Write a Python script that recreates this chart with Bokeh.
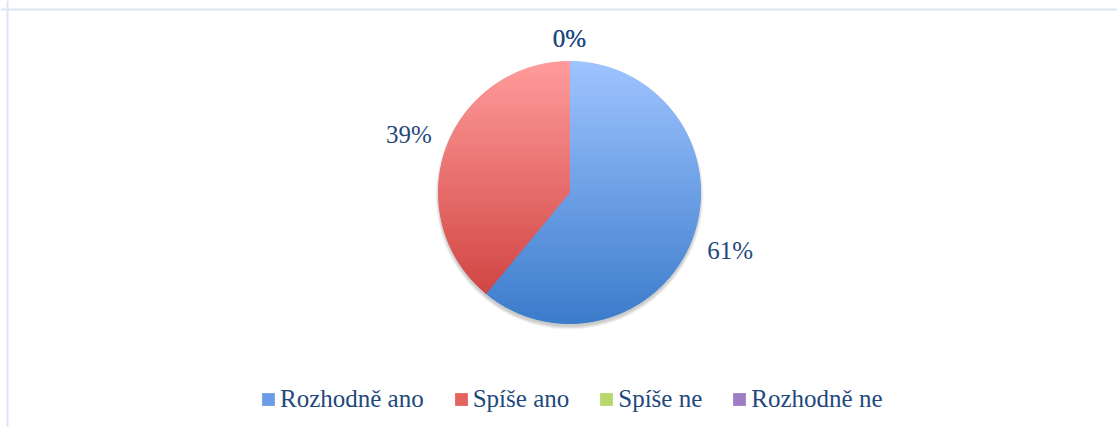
import numpy as np
from bokeh.plotting import figure
from bokeh.models import Range1d, Span, Legend, LegendItem, ColumnDataSource
from bokeh.core.properties import value
from bokeh.embed import file_html
from bokeh.resources import INLINE

# ---- data ----
categories = ["Rozhodně ano", "Spíše ano", "Spíše ne", "Rozhodně ne"]
values = [61, 39, 0, 0]

# ---- style ----
TOP_COLORS = ["#9EC4FF", "#FF9C9B", "#DDFFA0", "#C8AAEA"]
BOTTOM_COLORS = ["#3B7BCB", "#CB3A38", "#98B954", "#7B58A5"]
LEGEND_COLORS = ["#6A9DE6", "#E5625F", "#B8D86E", "#9E7DC6"]
TEXT_COLOR = "#1F497D"
FONT = "Liberation Serif"
FS = "25px"

W, H = 1117, 427
p = figure(width=W, height=H, x_range=Range1d(0, W), y_range=Range1d(0, H),
           output_backend="svg", toolbar_location=None, min_border=0,
           x_axis_type=None, y_axis_type=None)
p.grid.visible = False
p.outline_line_color = None
p.background_fill_color = "white"
p.border_fill_color = "white"

# chart area border (top and left visible)
p.add_layout(Span(location=418, dimension="width", line_color="#DCE6F2", line_width=2))
p.add_layout(Span(location=7, dimension="height", line_color="#DCE6F2", line_width=2))

CX, CY, R = 569, 235, 131

# soft shadow
for k in range(6):
    p.circle(x=[CX], y=[CY - 3], radius=R + 0.6 * k, fill_color="black", fill_alpha=0.035,
             line_color=None)

total = float(sum(values))
fracs = [v / total for v in values]
cum = np.concatenate([[0.0], np.cumsum(fracs)])
starts = [np.pi / 2 - 2 * np.pi * c for c in cum[:-1]]
ends = [np.pi / 2 - 2 * np.pi * c for c in cum[1:]]

# base wedges (also used for legend)
renderers = []
for i, cat in enumerate(categories):
    src = ColumnDataSource(dict(start=[starts[i]], end=[ends[i]], cat=[cat]))
    r = p.wedge(x=CX, y=CY, radius=R, start_angle="start", end_angle="end", direction="clock",
                fill_color=LEGEND_COLORS[i], line_color=None, source=src)
    if values[i] == 0:
        r.visible = False
    renderers.append(r)


def hex2rgb(h):
    h = h.lstrip("#")
    return np.array([int(h[j:j + 2], 16) for j in (0, 2, 4)], dtype=float)


def rgb2hex(c):
    return "#%02x%02x%02x" % tuple(int(round(v)) for v in c)


def clip(poly, y, keep_above):
    out = []
    n = len(poly)
    for j in range(n):
        P = poly[j]
        Q = poly[(j + 1) % n]
        pin = P[1] >= y if keep_above else P[1] <= y
        qin = Q[1] >= y if keep_above else Q[1] <= y
        if pin:
            out.append(P)
        if pin != qin:
            t = (y - P[1]) / (Q[1] - P[1])
            out.append((P[0] + t * (Q[0] - P[0]), y))
    return out


# gradient overlay (vertical gradient over the whole pie)
band_xs, band_ys, band_cols = [], [], []
step = 2.0
for i in range(len(values)):
    if values[i] == 0:
        continue
    ts = np.linspace(starts[i], ends[i], 300)
    poly = [(CX, CY)] + [(CX + R * np.cos(t), CY + R * np.sin(t)) for t in ts]
    top_c, bot_c = hex2rgb(TOP_COLORS[i]), hex2rgb(BOTTOM_COLORS[i])
    y = CY - R
    while y < CY + R:
        y1 = min(y + step, CY + R)
        piece = clip(clip(poly, y, True), y1, False)
        if len(piece) >= 3:
            tfrac = ((y + y1) / 2 - (CY - R)) / (2 * R)
            col = rgb2hex(bot_c + tfrac * (top_c - bot_c))
            band_xs.append([pt[0] for pt in piece])
            band_ys.append([pt[1] for pt in piece])
            band_cols.append(col)
        y = y1
p.patches(xs=band_xs, ys=band_ys, fill_color=band_cols, line_color=band_cols, line_width=1)

# percentage labels
labels = ["%d%%" % round(v / total * 100) for v in values]
lx, ly = [], []
for i, lab in enumerate(labels):
    mid = (starts[i] + ends[i]) / 2
    w = len(lab) * 15.5
    h = 17
    rr = R + 15 + (w / 2) * abs(np.cos(mid)) + (h / 2) * abs(np.sin(mid))
    lx.append(CX + rr * np.cos(mid))
    ly.append(CY + rr * np.sin(mid))
p.text(x=lx, y=ly, text=labels, text_align="center", text_baseline="middle",
       text_font=value(FONT), text_font_size=FS, text_color=TEXT_COLOR)

legend = Legend(items=[LegendItem(label=c, renderers=[r]) for c, r in zip(categories, renderers)],
                orientation="horizontal", location=(260, 14), glyph_width=16, glyph_height=16,
                label_standoff=4, spacing=29, padding=0, margin=0,
                border_line_color=None, background_fill_alpha=0,
                label_text_font=FONT, label_text_font_size=FS, label_text_color=TEXT_COLOR,
                inactive_fill_alpha=0)
p.add_layout(legend)

open("out.html", "w").write(file_html(p, INLINE))
